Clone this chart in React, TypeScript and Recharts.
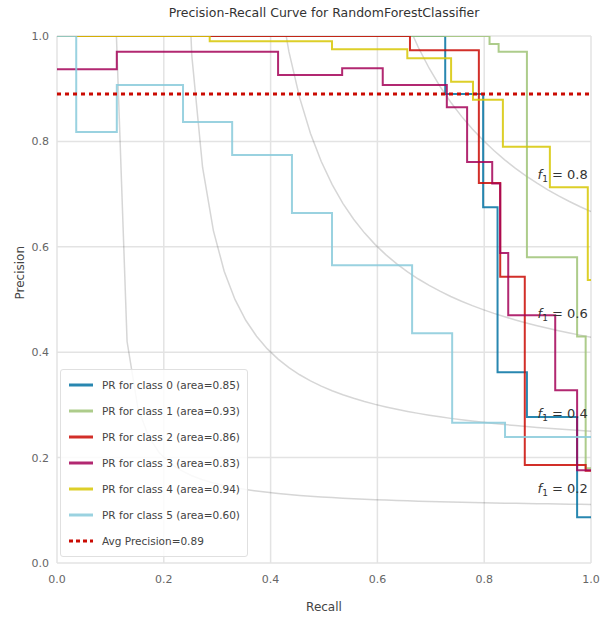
import React from "react";
import {
  LineChart,
  Line,
  XAxis,
  YAxis,
  CartesianGrid,
  ReferenceLine,
  ReferenceDot,
} from "recharts";

// per-class PR curves (step-post)
const RECALL_0 = [0, 0.727, 0.798, 0.825, 0.88, 0.974, 1.0];
const PRECISION_0 = [1.0, 0.89, 0.675, 0.362, 0.277, 0.087, 0.087];

const RECALL_1 = [0, 0.81, 0.827, 0.88, 0.974, 0.99, 1.0];
const PRECISION_1 = [1.0, 0.985, 0.97, 0.58, 0.43, 0.18, 0.18];

const RECALL_2 = [0, 0.661, 0.79, 0.83, 0.876, 0.99, 1.0];
const PRECISION_2 = [1.0, 0.973, 0.721, 0.543, 0.186, 0.175, 0.175];

const RECALL_3 = [0, 0.112, 0.414, 0.534, 0.61, 0.73, 0.768, 0.815, 0.83, 0.845, 0.933, 0.974, 1.0];
const PRECISION_3 = [0.937, 0.97, 0.926, 0.939, 0.907, 0.865, 0.761, 0.72, 0.588, 0.47, 0.328, 0.176, 0.176];

const RECALL_4 = [0, 0.286, 0.515, 0.656, 0.738, 0.779, 0.835, 0.923, 0.994, 1.0];
const PRECISION_4 = [1.0, 0.99, 0.975, 0.958, 0.913, 0.879, 0.79, 0.713, 0.537, 0.537];

const RECALL_5 = [0, 0.036, 0.112, 0.236, 0.328, 0.44, 0.515, 0.665, 0.74, 0.839, 1.0];
const PRECISION_5 = [1.0, 0.818, 0.907, 0.837, 0.774, 0.664, 0.565, 0.436, 0.266, 0.239, 0.239];

const CLASS_LABELS = ["0", "1", "2", "3", "4", "5"];
const CLASS_AREAS = [0.85, 0.93, 0.86, 0.83, 0.94, 0.6];
const CLASS_COLORS = ["#0272a2", "#9fc377", "#ca0b03", "#a50258", "#d7c703", "#88cada"];
const AVG_PRECISION = 0.89;

const ISO_F1 = [0.2, 0.4, 0.6, 0.8];
const TICKS = [0, 0.2, 0.4, 0.6, 0.8, 1.0];

const RECALLS = [RECALL_0, RECALL_1, RECALL_2, RECALL_3, RECALL_4, RECALL_5];
const PRECISIONS = [PRECISION_0, PRECISION_1, PRECISION_2, PRECISION_3, PRECISION_4, PRECISION_5];

const classSeries = RECALLS.map((rs, i) => rs.map((r, j) => ({ r, p: PRECISIONS[i][j] })));

// iso-f1 reference curves, same grid as yellowbrick (linspace(0.01, 1, 50))
const isoGrid = Array.from({ length: 50 }, (_, i) => 0.01 + (i * 0.99) / 49);
const isoCurve = (f: number) =>
  isoGrid.map((r) => ({ r, p: (f * r) / (2 * r - f) })).filter((d) => d.p >= 0);
const isoLabelY = (f: number) => {
  const r = isoGrid[45];
  return (f * r) / (2 * r - f) + 0.02;
};

const FONT = "'DejaVu Sans', sans-serif";

function F1Label(props: any) {
  const { cx, cy, f } = props;
  return (
    <text x={cx} y={cy} fill="#333" fontSize={13} fontFamily={FONT}>
      <tspan fontStyle="italic">f</tspan>
      <tspan fontSize={9} dy={3}>1</tspan>
      <tspan dy={-3}> = {f.toFixed(1)}</tspan>
    </text>
  );
}

function LegendBox() {
  return (
    <div
      style={{
        position: "absolute",
        left: 60,
        top: 369,
        width: 186,
        padding: "2px 0",
        background: "rgba(255,255,255,0.85)",
        border: "1px solid #e0e0e0",
        borderRadius: 3,
        fontFamily: FONT,
        fontSize: 10.5,
        color: "#444",
      }}
    >
      {CLASS_LABELS.map((c, i) => (
        <div key={c} style={{ display: "flex", alignItems: "center", height: 26 }}>
          <svg width={41} height={10}>
            <line x1={8} x2={32} y1={5} y2={5} stroke={CLASS_COLORS[i]} strokeWidth={3} strokeOpacity={0.85} />
          </svg>
          <span>{`PR for class ${c} (area=${CLASS_AREAS[i].toFixed(2)})`}</span>
        </div>
      ))}
      <div style={{ display: "flex", alignItems: "center", height: 26 }}>
        <svg width={41} height={10}>
          <line x1={8} x2={32} y1={5} y2={5} stroke="#ca0b03" strokeWidth={3} strokeDasharray="4 3" />
        </svg>
        <span>{`Avg Precision=${AVG_PRECISION.toFixed(2)}`}</span>
      </div>
    </div>
  );
}

export default function App() {
  return (
    <div style={{ position: "absolute", left: 0, top: 0, width: 606, height: 619, background: "#fff" }}>
      <div
        style={{
          position: "absolute",
          left: 57,
          width: 534,
          top: 5,
          textAlign: "center",
          fontFamily: FONT,
          fontSize: 12.5,
          color: "#333",
        }}
      >
        Precision-Recall Curve for RandomForestClassifier
      </div>
      <LineChart width={606} height={619} margin={{ top: 36, right: 15, left: 0, bottom: 0 }}>
        <CartesianGrid stroke="#e3e3e3" strokeWidth={1.5} />
        <XAxis
          type="number"
          dataKey="r"
          domain={[0, 1]}
          ticks={TICKS}
          allowDataOverflow
          axisLine={false}
          tickLine={false}
          height={56}
          tickFormatter={(v: number) => v.toFixed(1)}
          tick={{ fill: "#666", fontSize: 11, fontFamily: FONT }}
          tickMargin={6}
          label={{ value: "Recall", position: "insideBottom", offset: 8, fill: "#444", fontSize: 12, fontFamily: FONT }}
        />
        <YAxis
          type="number"
          dataKey="p"
          domain={[0, 1]}
          ticks={TICKS}
          allowDataOverflow
          axisLine={false}
          tickLine={false}
          width={57}
          tickFormatter={(v: number) => v.toFixed(1)}
          tick={{ fill: "#666", fontSize: 11, fontFamily: FONT }}
          tickMargin={2}
          label={{ value: "Precision", angle: -90, position: "insideLeft", offset: 20, fill: "#444", fontSize: 12, fontFamily: FONT }}
        />
        {ISO_F1.map((f) => (
          <Line
            key={`iso-${f}`}
            data={isoCurve(f)}
            dataKey="p"
            type="linear"
            stroke="#333333"
            strokeOpacity={0.2}
            strokeWidth={1.5}
            dot={false}
            activeDot={false}
            isAnimationActive={false}
          />
        ))}
        {classSeries.map((d, i) => (
          <Line
            key={`class-${i}`}
            data={d}
            dataKey="p"
            type="stepAfter"
            stroke={CLASS_COLORS[i]}
            strokeWidth={2}
            strokeOpacity={0.85}
            dot={false}
            activeDot={false}
            isAnimationActive={false}
          />
        ))}
        <ReferenceLine y={AVG_PRECISION} stroke="#ca0b03" strokeWidth={3} strokeDasharray="4 4" />
        {ISO_F1.map((f) => (
          <ReferenceDot
            key={`lbl-${f}`}
            x={0.9}
            y={isoLabelY(f)}
            r={0}
            ifOverflow="visible"
            shape={(props: any) => <F1Label {...props} f={f} />}
          />
        ))}
      </LineChart>
      <LegendBox />
    </div>
  );
}
